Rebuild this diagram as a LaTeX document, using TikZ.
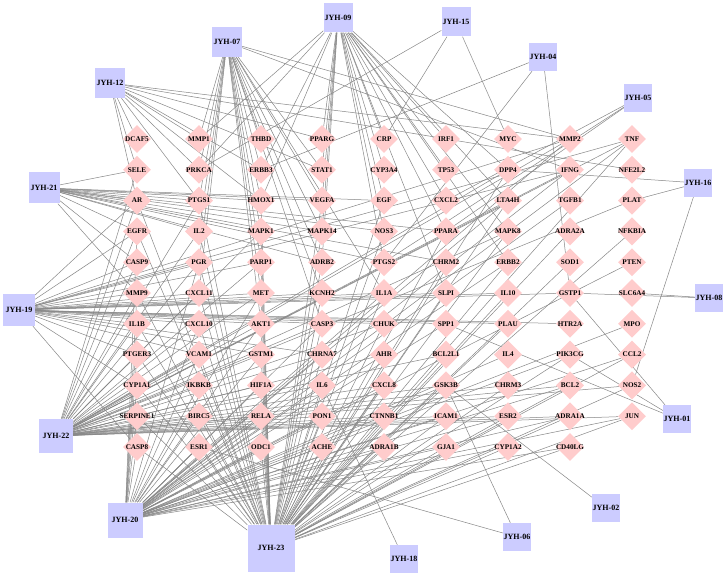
\documentclass[tikz,border=0pt]{standalone}
\usepackage{fontspec}
\setmainfont{Liberation Serif}
\usetikzlibrary{shapes.geometric,backgrounds}
\definecolor{tgtfill}{RGB}{255,204,204}
\definecolor{hubfill}{RGB}{204,204,255}
\definecolor{edgecol}{RGB}{135,135,135}
\begin{document}
\begin{tikzpicture}[x=1pt,y=-1pt,
  tgt/.style={diamond,fill=tgtfill,minimum size=28pt,inner sep=0pt},
  tlbl/.style={font=\fontsize{7.2}{7.2}\selectfont\bfseries,inner sep=0pt},
  hub/.style={rectangle,fill=hubfill,font=\fontsize{8}{8}\selectfont\bfseries,inner sep=0pt,minimum width=#1,minimum height=#1},
  lnk/.style={draw=edgecol,line width=0.5pt}]
\useasboundingbox (0,0) rectangle (726,575);
% target columns
\foreach \n [count=\i] in {DCAF5,SELE,AR,EGFR,CASP9,MMP9,IL1B,PTGER3,CYP1A1,SERPINE1,CASP8}
  \node[tgt,label={[tlbl]center:\n}] (\n) at (137,{108.2+30.8*\i}) {};
\foreach \n [count=\i] in {MMP1,PRKCA,PTGS1,IL2,PGR,CXCL11,CXCL10,VCAM1,IKBKB,BIRC5,ESR1}
  \node[tgt,label={[tlbl]center:\n}] (\n) at (199,{108.2+30.8*\i}) {};
\foreach \n [count=\i] in {THBD,ERBB3,HMOX1,MAPK1,PARP1,MET,AKT1,GSTM1,HIF1A,RELA,ODC1}
  \node[tgt,label={[tlbl]center:\n}] (\n) at (261,{108.2+30.8*\i}) {};
\foreach \n [count=\i] in {PPARG,STAT1,VEGFA,MAPK14,ADRB2,KCNH2,CASP3,CHRNA7,IL6,PON1,ACHE}
  \node[tgt,label={[tlbl]center:\n}] (\n) at (322,{108.2+30.8*\i}) {};
\foreach \n [count=\i] in {CRP,CYP3A4,EGF,NOS3,PTGS2,IL1A,CHUK,AHR,CXCL8,CTNNB1,ADRA1B}
  \node[tgt,label={[tlbl]center:\n}] (\n) at (384,{108.2+30.8*\i}) {};
\foreach \n [count=\i] in {IRF1,TP53,CXCL2,PPARA,CHRM2,SLPI,SPP1,BCL2L1,GSK3B,ICAM1,GJA1}
  \node[tgt,label={[tlbl]center:\n}] (\n) at (446,{108.2+30.8*\i}) {};
\foreach \n [count=\i] in {MYC,DPP4,LTA4H,MAPK8,ERBB2,IL10,PLAU,IL4,CHRM3,ESR2,CYP1A2}
  \node[tgt,label={[tlbl]center:\n}] (\n) at (508,{108.2+30.8*\i}) {};
\foreach \n [count=\i] in {MMP2,IFNG,TGFB1,ADRA2A,SOD1,GSTP1,HTR2A,PIK3CG,BCL2,ADRA1A,CD40LG}
  \node[tgt,label={[tlbl]center:\n}] (\n) at (570,{108.2+30.8*\i}) {};
\foreach \n [count=\i] in {TNF,NFE2L2,PLAT,NFKBIA,PTEN,SLC6A4,MPO,CCL2,NOS2,JUN}
  \node[tgt,label={[tlbl]center:\n}] (\n) at (632,{108.2+30.8*\i}) {};
% compounds
\node[hub=29pt] (j09) at (338,18) {JYH-09};
\node[hub=29pt] (j15) at (456,22) {JYH-15};
\node[hub=30pt] (j07) at (227,42) {JYH-07};
\node[hub=28pt] (j04) at (543,57) {JYH-04};
\node[hub=30pt] (j12) at (110,83) {JYH-12};
\node[hub=28pt] (j05) at (638,98) {JYH-05};
\node[hub=31pt] (j21) at (44,188) {JYH-21};
\node[hub=28pt] (j16) at (698,183) {JYH-16};
\node[hub=32pt] (j19) at (19,310) {JYH-19};
\node[hub=28pt] (j08) at (709,298) {JYH-08};
\node[hub=28pt] (j01) at (677,419) {JYH-01};
\node[hub=34pt] (j22) at (56,436) {JYH-22};
\node[hub=28pt] (j02) at (606,508) {JYH-02};
\node[hub=35pt] (j20) at (125,520) {JYH-20};
\node[hub=47pt] (j23) at (271,548) {JYH-23};
\node[hub=28pt] (j06) at (517,537) {JYH-06};
\node[hub=28pt] (j18) at (404,559) {JYH-18};
\begin{pgfonlayer}{background}
\fill[white] (0,0) rectangle (726,575);
\foreach \t in {AR,EGFR,MMP9,IL1B,PTGER3,CYP1A1,SERPINE1,CASP8,PTGS1,IL2,PGR,CXCL11,CXCL10,VCAM1,IKBKB,BIRC5,ESR1,HMOX1,MAPK1,PARP1,MET,AKT1,GSTM1,HIF1A,RELA,ODC1,VEGFA,MAPK14,ADRB2,KCNH2,CASP3,CHRNA7,IL6,PON1,ACHE,EGF,NOS3,PTGS2,IL1A,CHUK,AHR,CXCL8,CTNNB1,ADRA1B,PPARA,CHRM2,SLPI,BCL2L1,GSK3B,ICAM1,GJA1,LTA4H,MAPK8,ERBB2,IL10,PLAU,CHRM3,ESR2,CYP1A2,ADRA2A,SOD1,PIK3CG,BCL2,ADRA1A,CD40LG,JUN,NOS2,CCL2,NFKBIA,TNF,DPP4}
  \draw[lnk] (j23) -- (\t);
\foreach \t in {SELE,AR,EGFR,CASP9,MMP9,IL1B,PTGER3,CYP1A1,SERPINE1,PTGS1,IL2,PGR,CXCL11,CXCL10,VCAM1,IKBKB,BIRC5,MAPK1,PARP1,MET,AKT1,GSTM1,HIF1A,RELA,CASP3,CHRNA7,IL6,PON1,CHUK,AHR,CXCL8,CTNNB1,BCL2L1,GSK3B,ICAM1,CHRM3,ESR2,BCL2,ADRA1A,JUN,NOS2,TNF,IFNG,MMP2,DPP4,LTA4H,MAPK8,PLAT}
  \draw[lnk] (j22) -- (\t);
\foreach \t in {CASP8,SERPINE1,CYP1A1,PTGER3,IL1B,MMP9,EGFR,ESR1,BIRC5,IKBKB,VCAM1,CXCL10,PGR,ODC1,RELA,HIF1A,GSTM1,AKT1,MET,ACHE,PON1,IL6,CHRNA7,CASP3,ADRA1B,CTNNB1,CXCL8,AHR,IL1A,GJA1,ICAM1,GSK3B,SPP1,CYP1A2,ESR2,IL4,CD40LG,ADRA1A,BCL2,JUN,PIK3CG,MPO,CCL2,TGFB1,PTEN,TNF,IFNG,MMP2,LTA4H,ERBB2}
  \draw[lnk] (j20) -- (\t);
\foreach \t in {AR,EGFR,CASP9,MMP9,IL1B,PTGER3,CYP1A1,CASP8,CXCL11,CXCL10,PGR,VCAM1,MET,AKT1,PARP1,GSTM1,KCNH2,CASP3,CHRNA7,IL1A,CHUK,SLPI,SPP1,IL10,PLAU,GSTP1,HTR2A,TNF,IFNG,MMP2}
  \draw[lnk] (j19) -- (\t);
\foreach \t in {SELE,AR,EGFR,CASP9,MMP9,PTGS1,IL2,HMOX1,MAPK1,VEGFA,MAPK14,ADRB2,EGF,NOS3,PTGS2,PPARA,CHRM2}
  \draw[lnk] (j21) -- (\t);
\foreach \t in {MMP1,PRKCA,PTGS1,IL2,PGR,CXCL11,THBD,ERBB3,HMOX1,MAPK1,PARP1,MET,AKT1,STAT1,VEGFA,MAPK14,ADRB2,KCNH2,CASP3,IL1A,MMP2,IFNG}
  \draw[lnk] (j07) -- (\t);
\foreach \t in {MMP1,PRKCA,ERBB3,HMOX1,PPARG,STAT1,VEGFA,MAPK14,ADRB2,CRP,CYP3A4,EGF,NOS3,PTGS2,IRF1,TP53,CXCL2,PPARA,DPP4,LTA4H,MAPK8,ERBB2,SLPI}
  \draw[lnk] (j09) -- (\t);
\foreach \t in {DCAF5,SELE,AR,MMP1,PRKCA,PTGS1,ERBB3,HMOX1,STAT1,PPARG,MMP2,NFE2L2}
  \draw[lnk] (j12) -- (\t);
\foreach \t in {PRKCA,CRP,MYC} \draw[lnk] (j15) -- (\t);
\foreach \t in {ERBB3,PTGS2,GSTP1} \draw[lnk] (j04) -- (\t);
\foreach \t in {CXCL2,PPARA,PTGS2} \draw[lnk] (j05) -- (\t);
\foreach \t in {DPP4,PLAT,NOS2} \draw[lnk] (j16) -- (\t);
\foreach \t in {SLC6A4,GSTP1} \draw[lnk] (j08) -- (\t);
\foreach \t in {GSTP1,PIK3CG,SPP1} \draw[lnk] (j01) -- (\t);
\foreach \t in {GSK3B} \draw[lnk] (j02) -- (\t);
\foreach \t in {GSK3B,ESR1} \draw[lnk] (j06) -- (\t);
\foreach \t in {IL6} \draw[lnk] (j18) -- (\t);
\end{pgfonlayer}
\end{tikzpicture}
\end{document}
